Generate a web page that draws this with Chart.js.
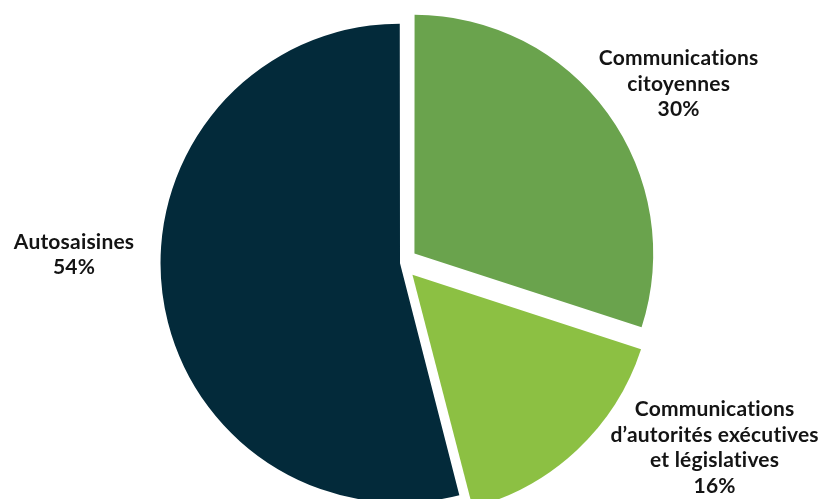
<!DOCTYPE html>
<html lang="fr">
<head>
<meta charset="utf-8">
<title>Répartition des saisines</title>
<script src="https://cdn.jsdelivr.net/npm/chart.js@4.4.1/dist/chart.umd.min.js"></script>
<style>
  html, body { margin: 0; padding: 0; background: #fff; }
  #wrap { width: 839px; height: 499px; position: relative; }
</style>
</head>
<body>
<div id="wrap"><canvas id="pie"></canvas></div>
<script>
// Parts des saisines par origine
const categories = [
  ['Communications', 'citoyennes'],
  ['Communications', 'd’autorités exécutives', 'et législatives'],
  ['Autosaisines']
];
const shares = [30, 16, 54];

const sliceColors = ['#6aa34d', '#8cc043', '#032a3a'];
// explosion of each slice (chart.js divides this by 4)
const explode = [64, 64, 6];
// label placement around each slice: [angle tweak in degrees, distance as a share of the radius]
const labelSpots = [[3.3, 1.319], [-17.0, 1.463], [8.7, 1.370]];

const ctx = document.getElementById('pie');

// draws the category name and its percentage outside each slice
const outsideLabels = {
  id: 'outsideLabels',
  afterDatasetsDraw(chart) {
    const meta = chart.getDatasetMeta(0);
    const c = chart.ctx;
    c.save();
    c.font = 'bold 21px Lato, "Open Sans", sans-serif';
    c.letterSpacing = '0.2px';
    c.fillStyle = '#141414';
    c.textAlign = 'center';
    c.textBaseline = 'middle';
    meta.data.forEach((arc, i) => {
      const mid = (arc.startAngle + arc.endAngle) / 2;
      const shift = (arc.options.offset || 0) / 4;
      const ox = arc.x + Math.cos(mid) * shift;
      const oy = arc.y + Math.sin(mid) * shift;
      const ang = mid + labelSpots[i][0] * Math.PI / 180;
      const dist = arc.outerRadius * labelSpots[i][1];
      const x = ox + Math.cos(ang) * dist;
      const y = oy + Math.sin(ang) * dist;
      const lines = [...categories[i], shares[i] + '%'];
      const lh = 25.5;
      const top = y - (lines.length - 1) * lh / 2;
      lines.forEach((t, k) => c.fillText(t, x, top + k * lh));
    });
    c.restore();
  }
};

let config = {
  type: 'pie',
  data: {
    labels: categories.map(l => l.join(' ')),
    datasets: [{
      data: shares,
      backgroundColor: sliceColors,
      borderWidth: 0,
      offset: explode,
      radius: 238
    }]
  },
  options: {
    responsive: true,
    maintainAspectRatio: false,
    animation: false,
    layout: { padding: { left: 0, right: 36, top: 27, bottom: 0 } },
    plugins: {
      legend: { display: false },
      tooltip: { enabled: false }
    }
  },
  plugins: [outsideLabels]
};

const graph = new Chart(ctx, config);
</script>
</body>
</html>
